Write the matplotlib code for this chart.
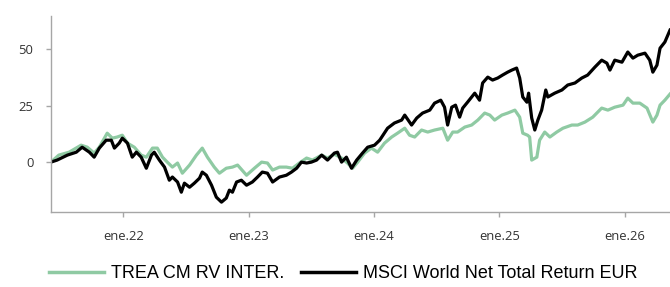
import matplotlib
matplotlib.use("Agg")
import matplotlib.pyplot as plt
import pandas as pd

series_names = ["TREA CM RV INTER.", "MSCI World Net Total Return EUR"]

trea_dates = [
    "2021-06-04", "2021-06-27", "2021-07-27", "2021-08-31", "2021-09-18", "2021-10-08",
    "2021-10-23", "2021-11-15", "2021-11-30", "2021-12-14", "2021-12-29", "2022-01-13",
    "2022-02-02", "2022-02-22", "2022-03-09", "2022-03-27", "2022-04-10", "2022-04-25",
    "2022-05-09", "2022-05-24", "2022-06-08", "2022-06-22", "2022-07-13", "2022-08-02",
    "2022-08-19", "2022-09-03", "2022-09-23", "2022-10-08", "2022-10-28", "2022-11-15",
    "2022-11-30", "2022-12-26", "2023-01-18", "2023-02-08", "2023-02-25", "2023-03-12",
    "2023-04-01", "2023-04-21", "2023-05-09", "2023-05-29", "2023-06-19", "2023-07-06",
    "2023-08-02", "2023-08-19", "2023-09-08", "2023-09-29", "2023-10-16", "2023-10-31",
    "2023-11-15", "2023-12-05", "2023-12-25", "2024-01-12", "2024-02-01", "2024-02-22",
    "2024-03-10", "2024-03-31", "2024-04-14", "2024-04-29", "2024-05-19", "2024-06-06",
    "2024-06-26", "2024-07-20", "2024-08-03", "2024-08-18", "2024-09-01", "2024-09-22",
    "2024-10-12", "2024-10-30", "2024-11-19", "2024-12-04", "2024-12-18", "2025-01-08",
    "2025-01-25", "2025-02-15", "2025-03-01", "2025-03-10", "2025-03-24", "2025-03-30",
    "2025-04-05", "2025-04-20", "2025-04-28", "2025-05-13", "2025-05-28", "2025-06-17",
    "2025-07-05", "2025-07-31", "2025-08-17", "2025-09-07", "2025-09-30", "2025-10-26",
    "2025-11-13", "2025-12-03", "2025-12-27", "2026-01-10", "2026-01-25", "2026-02-14",
    "2026-03-07", "2026-03-24", "2026-04-05", "2026-04-14", "2026-04-28", "2026-05-13",
]
trea_values = [
    0.0, 3.1, 4.4, 7.5, 6.6, 4.0,
    6.6, 12.8, 10.6, 11.1, 11.9, 8.4,
    6.6, 3.1, 2.2, 6.2, 6.2, 2.2,
    0.0, -2.2, -0.4, -4.9, -1.3, 3.1,
    6.2, 2.2, -2.2, -4.9, -2.7, -2.2,
    -1.3, -5.8, -2.7, 0.0, -0.4, -3.5,
    -2.2, -2.2, -2.7, -0.4, 1.8, 0.9,
    3.1, 1.8, 3.5, 1.8, -0.4, -2.7,
    0.0, 4.0, 6.2, 4.4, 8.4, 11.1,
    12.8, 15.0, 11.9, 11.1, 14.2, 13.3,
    14.2, 15.0, 9.7, 13.3, 13.3, 15.5,
    16.4, 18.6, 21.7, 20.8, 18.6, 20.8,
    21.7, 23.0, 19.9, 12.8, 11.9, 11.1,
    0.9, 2.2, 9.7, 13.3, 11.1, 13.3,
    15.0, 16.4, 16.4, 17.7, 19.9, 23.9,
    23.0, 24.3, 25.2, 28.3, 26.1, 26.1,
    23.9, 17.7, 20.8, 25.2, 27.4, 30.1,
]

msci_dates = [
    "2021-06-04", "2021-06-22", "2021-07-22", "2021-08-17", "2021-09-03", "2021-09-24",
    "2021-10-08", "2021-10-23", "2021-11-12", "2021-11-27", "2021-12-06", "2021-12-20",
    "2021-12-29", "2022-01-13", "2022-01-27", "2022-02-08", "2022-02-22", "2022-03-09",
    "2022-03-24", "2022-04-01", "2022-04-16", "2022-05-01", "2022-05-15", "2022-05-24",
    "2022-06-08", "2022-06-19", "2022-06-28", "2022-07-13", "2022-07-27", "2022-08-11",
    "2022-08-19", "2022-08-31", "2022-09-15", "2022-09-29", "2022-10-14", "2022-10-28",
    "2022-11-06", "2022-11-15", "2022-11-27", "2022-12-11", "2022-12-26", "2023-01-12",
    "2023-01-27", "2023-02-10", "2023-02-25", "2023-03-12", "2023-04-01", "2023-04-21",
    "2023-05-06", "2023-05-21", "2023-06-04", "2023-06-19", "2023-07-03", "2023-07-18",
    "2023-08-02", "2023-08-19", "2023-09-08", "2023-09-17", "2023-09-29", "2023-10-13",
    "2023-10-28", "2023-11-12", "2023-11-29", "2023-12-14", "2024-01-03", "2024-01-18",
    "2024-02-10", "2024-03-01", "2024-03-22", "2024-03-31", "2024-04-20", "2024-05-05",
    "2024-05-22", "2024-06-12", "2024-06-26", "2024-07-14", "2024-07-25", "2024-08-03",
    "2024-08-15", "2024-08-26", "2024-09-07", "2024-09-16", "2024-09-30", "2024-10-21",
    "2024-11-04", "2024-11-13", "2024-11-28", "2024-12-12", "2024-12-27", "2025-01-10",
    "2025-01-25", "2025-02-06", "2025-02-20", "2025-03-01", "2025-03-10", "2025-03-22",
    "2025-03-27", "2025-04-05", "2025-04-14", "2025-04-23", "2025-05-04", "2025-05-16",
    "2025-05-22", "2025-06-11", "2025-07-02", "2025-07-19", "2025-08-09", "2025-08-29",
    "2025-09-15", "2025-10-06", "2025-10-26", "2025-11-10", "2025-11-19", "2025-12-03",
    "2025-12-24", "2026-01-10", "2026-01-25", "2026-02-08", "2026-03-01", "2026-03-15",
    "2026-03-24", "2026-04-05", "2026-04-14", "2026-04-28", "2026-05-13",
]
msci_values = [
    0.0, 0.9, 3.1, 4.4, 6.6, 4.4,
    2.2, 6.2, 9.7, 9.7, 6.2, 8.4,
    10.6, 8.4, 2.2, 4.4, 2.2, -2.7,
    3.1, 4.4, 0.9, -2.2, -8.0, -6.6,
    -8.8, -13.3, -9.3, -11.1, -9.3, -7.1,
    -4.4, -5.8, -10.2, -15.5, -17.7, -15.9,
    -12.4, -13.3, -8.8, -8.0, -10.2, -8.8,
    -6.6, -4.4, -4.9, -8.8, -6.6, -5.8,
    -4.4, -2.7, 0.0, -0.4, 0.0, 0.9,
    3.1, 0.9, 4.0, 4.4, 0.0, 2.2,
    -2.7, 0.9, 4.0, 6.6, 7.5, 9.7,
    15.0, 17.3, 18.6, 20.8, 16.4, 19.5,
    21.7, 23.0, 26.1, 27.4, 24.3, 16.4,
    24.3, 25.2, 19.9, 23.9, 26.5, 30.5,
    27.4, 35.0, 37.6, 36.3, 37.2, 38.5,
    39.8, 40.7, 41.6, 37.2, 28.8, 26.5,
    30.5, 19.5, 14.2, 18.6, 23.0, 31.9,
    28.8, 30.5, 31.9, 34.1, 35.0, 37.2,
    38.5, 42.0, 45.1, 43.8, 40.7, 45.1,
    44.2, 48.7, 46.0, 47.3, 48.2, 45.1,
    39.8, 42.9, 50.4, 53.1, 58.4,
]

y_ticks = [0, 25, 50]
x_tick_dates = ["2022-01-01", "2023-01-01", "2024-01-01", "2025-01-01", "2026-01-01"]
x_tick_labels = ["ene.22", "ene.23", "ene.24", "ene.25", "ene.26"]

green = "#8fcaa3"
black = "#000000"
axis_gray = "#a6a6a6"

fig = plt.figure(figsize=(6.70, 2.87), dpi=100)
ax = fig.add_axes([0.076, 0.261, 0.924, 0.683])

td = pd.to_datetime(trea_dates)
md = pd.to_datetime(msci_dates)
ax.plot(td, trea_values, color=green, lw=2.3, label=series_names[0], solid_joinstyle="round")
ax.plot(md, msci_values, color=black, lw=2.3, label=series_names[1], solid_joinstyle="round")

ax.set_xlim(pd.Timestamp("2021-06-04"), pd.Timestamp("2026-05-13"))
ax.set_ylim(-22.1, 64.6)

ax.set_yticks(y_ticks)
ax.set_xticks(pd.to_datetime(x_tick_dates))
ax.set_xticklabels(x_tick_labels)

for s in ["top", "right"]:
    ax.spines[s].set_visible(False)
for s in ["left", "bottom"]:
    ax.spines[s].set_color(axis_gray)
    ax.spines[s].set_linewidth(1.0)

ax.tick_params(axis="y", length=3.6, width=1, color=axis_gray, pad=9.0,
               labelsize=9.4, labelcolor="#333333")
ax.tick_params(axis="x", length=3.6, width=1, color=axis_gray, pad=9.0,
               labelsize=9.4, labelcolor="#333333")
for lab in ax.get_xticklabels() + ax.get_yticklabels():
    lab.set_fontfamily("Open Sans")

leg = fig.legend(loc="center", bbox_to_anchor=(0.512, 0.047), ncol=2, frameon=False,
                 prop={"family": "Liberation Sans", "size": 13},
                 handlelength=3.05, handletextpad=0.4, columnspacing=0.9)
for line in leg.get_lines():
    line.set_linewidth(2.5)

fig.savefig("out.png", dpi=100)
